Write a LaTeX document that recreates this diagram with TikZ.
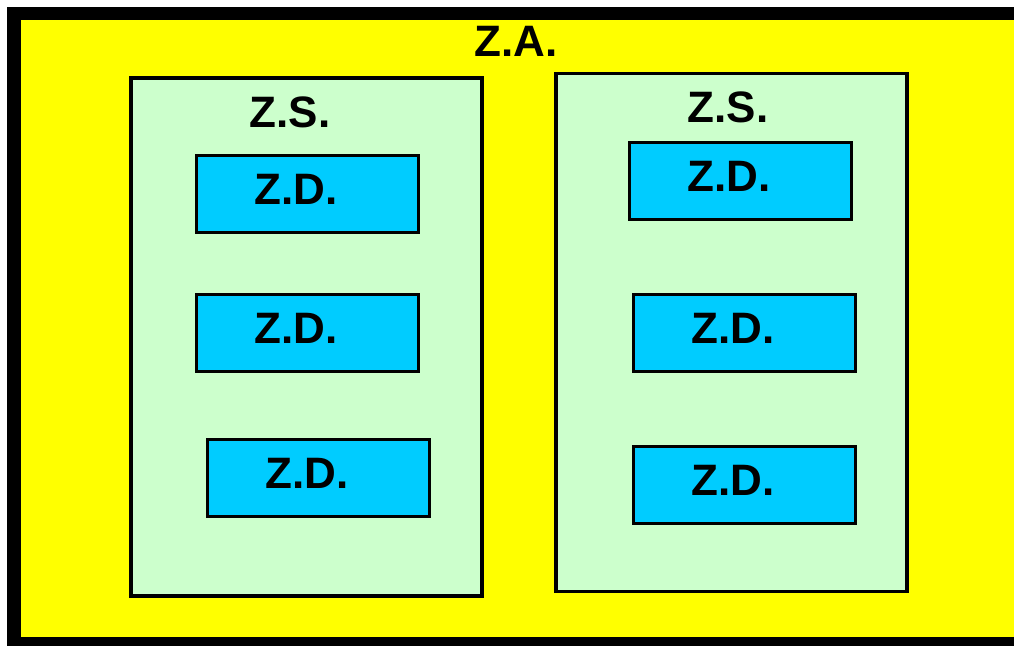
\documentclass[tikz,border=0pt]{standalone}
\usepackage{fontspec}
\setmainfont{Liberation Sans}
\usepackage{xcolor}
\definecolor{zayellow}{RGB}{255,255,0}
\definecolor{zsgreen}{RGB}{204,255,204}
\definecolor{zdblue}{RGB}{0,204,255}

\begin{document}
\begin{tikzpicture}[x=0.5pt, y=-0.5pt, font=\fontsize{22}{26}\selectfont\bfseries,
  zs/.style = {draw, line width=1.75pt, fill=zsgreen, minimum width=175.5pt, minimum height=259pt, inner sep=0pt},
  zd/.style = {draw, line width=1.5pt, fill=zdblue, minimum width=111pt, minimum height=38.5pt, inner sep=0pt,
               label={[xshift=-5.5pt, yshift=2.5pt]center:Z.D.}}]
\useasboundingbox (0,0) rectangle (1014,646);
\clip (0,0) rectangle (1014,646);
\fill[white] (0,0) rectangle (1014,646);
% outer zone, the frame runs off the right side
\draw[line width=6.75pt, fill=zayellow] (14,13.5) rectangle (1040,643.5);
\node (ZA) [anchor=base] at (516,57) {Z.A.};

% left Z.S.
\node (S1) [zs] at (306.5,337) {};
\node (S1t) [anchor=base] at (290,128) {Z.S.};
\node (D11) [zd] at (307,194) {};
\node (D12) [zd] at (307,333) {};
\node (D13) [zd] at (318,478) {};

% right Z.S.
\node (S2) [zs] at (731.5,332.5) {};
\node (S2t) [anchor=base] at (728,123) {Z.S.};
\node (D21) [zd] at (740,181) {};
\node (D22) [zd] at (744,333) {};
\node (D23) [zd] at (744,485) {};
\end{tikzpicture}
\end{document}
